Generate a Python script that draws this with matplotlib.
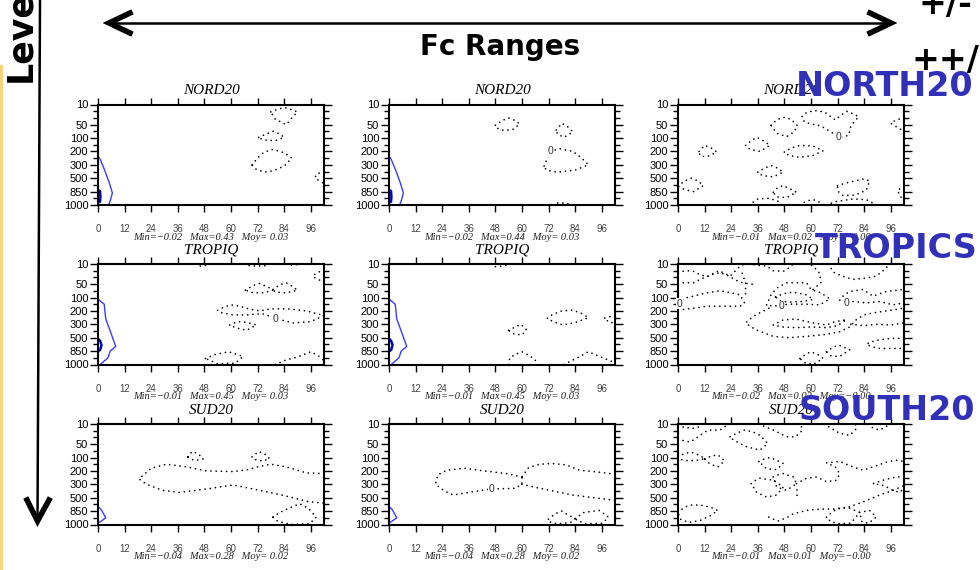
import math
import matplotlib
matplotlib.use("Agg")
import matplotlib.pyplot as plt

# Echeances (h) et niveaux de pression (axe vertical en indice de niveau)
fc_hours = [0, 12, 24, 36, 48, 60, 72, 84, 96]
level_labels = ["10", "50", "100", "200", "300", "500", "850", "1000"]
level_pos = [0, 1.5, 2.5, 3.5, 4.5, 5.5, 6.5, 7.5]
level_minor = [0.5, 1.0, 2.0, 3.0, 4.0, 5.0, 6.0, 7.0]

regions = ["NORD20", "TROPIQ", "SUD20"]

# Min / Max / Moy par domaine (lignes) et par experience (colonnes)
stat_min = [[-0.02, -0.02, -0.01], [-0.01, -0.01, -0.02], [-0.04, -0.04, -0.01]]
stat_max = [[0.43, 0.44, 0.02], [0.45, 0.45, 0.02], [0.28, 0.28, 0.01]]
stat_moy = [[0.03, 0.03, -0.00], [0.03, 0.03, -0.00], [0.02, 0.02, -0.00]]

# Isolignes 0 (pointillees), chaque courbe = liste de (heure, niveau)
nord_a = [
    [(78, 0.55), (82, 0.3), (85, 0.25), (90, 0.55), (87, 1.1), (85, 1.5), (80, 1.1), (78, 0.55)],
    [(72.5, 2.45), (76, 2.2), (79, 2.0), (82, 2.2), (84, 2.45), (80, 2.7), (74.5, 2.65), (72.5, 2.45)],
    [(69.5, 4.5), (72, 4.0), (75, 3.55), (79, 3.35), (84, 3.6), (87.5, 4.0), (84, 4.6), (79, 4.95),
     (75, 5.05), (71, 4.8), (69.5, 4.5)],
    [(102, 5.0), (98.5, 5.2), (98, 5.5), (102, 5.9)],
]
nord_b = [
    [(48, 1.55), (51, 1.2), (54, 1.0), (57, 1.2), (59, 1.45), (56, 1.85), (52, 1.95), (48.5, 1.75), (48, 1.55)],
    [(75.5, 1.9), (78, 1.4), (81, 1.7), (83, 2.05), (79, 2.45), (76, 2.2), (75.5, 1.9)],
    [(70, 4.6), (71.5, 4.0), (73, 3.5), (77, 3.3), (83, 3.5), (87, 4.0), (90, 4.5), (84, 4.9),
     (76, 5.05), (71, 4.9), (70, 4.6)],
    [(74, 7.5), (76, 7.35), (80, 7.35), (82, 7.5)],
]
nord_c = [
    [(0, 6.1), (3, 5.7), (6, 5.5), (9, 5.7), (11.5, 6.05), (7, 6.5), (3, 6.35), (0, 6.1)],
    [(9.5, 3.5), (12, 3.05), (15, 3.25), (17.5, 3.55), (13, 3.9), (10, 3.85), (9.5, 3.5)],
    [(30.5, 3.05), (33, 2.7), (35.5, 2.45), (39, 2.75), (41.5, 3.05), (37, 3.5), (32.5, 3.35), (30.5, 3.05)],
    [(42, 1.55), (44.5, 1.15), (47.5, 0.95), (51, 1.1), (54, 1.6), (52, 2.1), (49, 2.4), (44.5, 2.15), (42, 1.55)],
    [(48, 3.55), (51, 3.25), (55, 3.05), (61, 3.1), (65.5, 3.45), (61, 3.8), (55, 3.95), (50, 3.8), (48, 3.55)],
    [(36, 5.05), (39, 4.75), (42, 4.55), (45, 4.75), (47.5, 5.05), (43, 5.4), (38, 5.3), (36, 5.05)],
    [(43, 6.55), (45, 6.2), (47.5, 6.05), (50, 6.25), (53.5, 6.55), (49, 6.95), (44.5, 6.9), (43, 6.55)],
    [(56, 0.9), (58, 0.6), (61.5, 0.45), (66, 0.55), (71, 1.15), (74, 0.75), (76.5, 0.5), (81.5, 0.9),
     (78, 1.6), (77, 2.3), (73.5, 2.45), (69, 2.05), (64.5, 1.6), (60, 1.45), (57, 1.3), (56, 0.9)],
    [(102, 0.95), (98, 1.2), (96, 1.4), (99, 1.7), (101, 1.9)],
    [(72, 6.05), (76, 5.85), (80, 5.7), (84, 5.55), (86.5, 5.7), (85, 6.4), (80, 6.75), (74.5, 6.8),
     (72, 6.45), (72, 6.05)],
    [(32, 7.5), (36, 7.05), (41, 7.0), (45, 7.2), (47, 7.5)],
    [(55, 7.5), (58, 7.2), (61, 7.1), (64, 7.3), (66, 7.5)],
    [(67, 7.5), (71, 7.25), (79, 7.05), (85, 7.1), (89.5, 7.5)],
    [(102, 6.1), (99, 6.4), (100.5, 6.9), (102, 7.1)],
]

tropiq_a = [
    [(44, 0.0), (46, 0.15), (49, 0.1), (50, 0.0)],
    [(66, 0.0), (69, 0.15), (75, 0.15), (78, 0.0)],
    [(85, 0.0), (88, 0.1), (91, 0.0)],
    [(102, 0.4), (98, 0.75), (97, 0.95), (100, 1.2), (102, 1.1)],
    [(66.5, 1.95), (70, 1.6), (73, 1.45), (77, 1.75), (79, 1.95), (75, 2.15), (70, 2.15), (66.5, 1.95)],
    [(79, 1.9), (82, 1.55), (85, 1.4), (88, 1.7), (90, 1.95), (85, 2.15), (80, 2.1), (79, 1.9)],
    [(54, 3.45), (57, 3.2), (60, 3.05), (64, 3.15), (68, 3.35), (73, 3.5), (78, 3.35), (86, 3.35),
     (94, 3.5), (102, 3.85), (96, 4.3), (88, 4.4), (81, 4.1), (74, 3.7), (67, 3.8), (61, 3.8),
     (56, 3.65), (54, 3.45)],
    [(59.5, 4.55), (63, 4.3), (67, 4.35), (71.5, 4.55), (67, 4.95), (62, 4.75), (59.5, 4.55)],
    [(48.5, 7.05), (53, 6.75), (59, 6.55), (65.5, 6.9), (62, 7.4), (54, 7.45), (48.5, 7.05)],
    [(80, 7.5), (85, 7.15), (90, 6.95), (96, 6.55), (99, 6.8), (102, 7.2)],
]
tropiq_b = [
    [(46, 0.0), (48, 0.2), (52, 0.15), (54, 0.0)],
    [(54, 4.95), (57, 4.7), (59.5, 4.5), (62, 4.9), (60, 5.3), (56, 5.2), (54, 4.95)],
    [(71.5, 4.05), (74, 3.75), (78, 3.5), (83, 3.45), (87, 3.7), (90, 4.0), (84.5, 4.35), (78.5, 4.55),
     (74, 4.3), (71.5, 4.05)],
    [(102, 3.85), (97, 4.05), (100, 4.4), (102, 4.3)],
    [(54, 7.5), (54.5, 7.0), (57, 6.75), (60, 6.55), (63, 6.8), (66, 7.15), (66.5, 7.5)],
    [(79, 7.5), (85, 7.0), (90, 6.55), (95, 6.9), (101, 7.3), (102, 7.45)],
]
tropiq_c = [
    [(0, 0.6), (4, 0.5), (7, 0.55), (10, 0.8), (13, 0.95), (16, 0.7), (18.5, 0.5), (21, 0.7),
     (23.5, 0.9), (26, 0.5), (28, 0.15), (30, 0.0)],
    [(0, 1.4), (4, 1.4), (7, 1.4), (10, 1.15), (13, 0.95), (16, 0.75), (19, 0.65), (23, 0.9),
     (26, 1.2), (29, 1.4), (33, 1.5), (35, 1.55)],
    [(29, 0.7), (30.5, 1.4), (30.5, 2.3)],
    [(0, 2.85), (3, 2.55), (7, 2.4), (13, 2.15), (19, 2.0), (24, 2.15), (28, 2.3), (30, 2.9), (28, 3.15),
     (20, 3.15), (13, 3.15), (7, 3.3), (2, 3.4), (0, 3.1)],
    [(32, 0.0), (36, 0.1), (40, 0.15), (43, 0.5), (47.5, 0.55), (50, 0.3), (52, 0.0)],
    [(40, 3.05), (42, 2.3), (44.5, 1.8), (49, 1.4), (54, 1.4), (58, 1.4), (60, 1.9), (64.5, 2.15),
     (68.5, 2.6), (64, 3.05), (58, 3.0), (50, 3.0), (43, 3.15), (40, 3.05)],
    [(44, 2.45), (48, 2.2), (52, 2.1), (58, 2.3), (61, 2.65), (56, 2.8), (50, 2.85), (46, 2.75), (44, 2.45)],
    [(41, 3.3), (38, 3.55), (34, 3.9), (30.5, 4.4), (35, 4.9), (43, 5.4), (50, 5.5), (58, 5.4), (67, 5.25),
     (73, 5.05), (77.5, 4.7), (80.5, 4.15), (84, 3.8), (88, 3.65), (94, 3.5), (102, 3.3)],
    [(43, 4.55), (47, 4.2), (53, 4.1), (61, 4.4), (67, 4.55), (71, 4.3), (76, 4.15), (72, 4.6), (67, 4.75),
     (60, 4.7), (53, 4.75), (47, 4.7), (43, 4.55)],
    [(61, 1.9), (64.5, 1.4), (64, 0.7), (61, 0.15), (59, 0.0)],
    [(68, 0.0), (70, 0.6), (74, 0.9), (79, 1.15), (85, 1.05), (89.5, 0.9), (94, 0.3), (95, 0.0)],
    [(73, 2.7), (75, 2.3), (77.5, 2.05), (83.5, 1.9), (88, 2.4), (94, 2.05), (102, 1.9)],
    [(79, 2.8), (85, 2.9), (91, 2.8), (97, 3.05), (102, 2.9)],
    [(78, 4.5), (84, 4.6), (90, 4.5), (96, 4.55), (102, 4.4)],
    [(102, 5.55), (96, 5.55), (91, 5.65), (86.5, 5.85), (85, 6.0), (88, 6.2), (91, 6.3), (102, 6.3)],
    [(55, 7.05), (58, 6.7), (60, 6.55), (63, 6.75), (65.5, 7.05), (61, 7.5), (57, 7.35), (55, 7.05)],
    [(67, 6.55), (70, 6.2), (72.5, 6.05), (77.5, 6.4), (73, 6.9), (69, 6.85), (67, 6.55)],
]

sud_a = [
    [(40.5, 2.45), (42.5, 2.05), (45, 2.2), (47.5, 2.6), (44.5, 2.7), (42, 2.65), (40.5, 2.45)],
    [(69.5, 2.45), (72.5, 2.05), (75, 2.2), (77.5, 2.6), (74.5, 2.75), (71.5, 2.7), (69.5, 2.45)],
    [(102, 3.7), (94, 3.65), (85, 3.2), (78, 3.0), (72, 3.2), (68, 3.4), (61, 3.55), (49, 3.5), (40, 3.2),
     (31, 3.0), (24, 3.3), (18.5, 4.1), (22, 4.5), (29, 4.95), (37, 5.1), (49, 4.85), (61, 4.55),
     (70, 4.85), (83, 5.3), (95, 5.8), (102, 5.9)],
    [(79, 6.95), (82, 6.6), (86, 6.3), (91, 5.95), (95, 6.3), (98.5, 6.95), (95.5, 7.45), (87, 7.5),
     (81, 7.25), (79, 6.95)],
]
sud_b = [
    [(60, 3.95), (53, 3.7), (43, 3.5), (34, 3.3), (26, 3.45), (22, 3.8), (21, 4.5), (25, 5.0), (29, 5.3),
     (38, 5.05), (46, 4.85), (57, 4.8), (60, 4.5), (60, 3.95)],
    [(102, 3.75), (95, 3.6), (86, 3.45), (80, 3.05), (74, 2.95), (68, 3.0), (63, 3.25), (60, 3.95)],
    [(60, 4.5), (68, 4.8), (83, 5.3), (102, 5.7)],
    [(72, 7.1), (75, 6.7), (78, 6.5), (81, 6.8), (84, 7.05), (82, 7.35), (76, 7.45), (73, 7.35), (72, 7.1)],
    [(84, 7.05), (88, 6.6), (95, 6.45), (99, 6.95), (96.5, 7.4), (89, 7.45), (85, 7.2), (84, 7.05)],
]
sud_c = [
    [(0, 1.15), (5.5, 1.35), (10, 0.85), (13.5, 0.45), (19, 0.45), (22, 0.1), (23, 0.0)],
    [(0, 0.3), (3, 0.2), (6, 0.35), (9, 0.25), (11, 0.0)],
    [(23.5, 0.95), (27, 0.65), (30, 0.45), (34, 0.6), (37, 0.85), (40.5, 1.45), (37, 1.95), (31, 1.7),
     (25, 1.2), (23.5, 0.95)],
    [(36.5, 0.0), (40, 0.25), (43, 0.45), (46, 0.7), (49, 0.95), (53, 0.95), (56, 0.5), (55.5, 0.0)],
    [(66, 0.0), (70, 0.4), (73, 0.7), (77.5, 0.85), (80.5, 0.35), (80, 0.0)],
    [(86, 0.0), (88, 0.3), (91, 0.45), (94, 0.2), (95, 0.0)],
    [(0, 2.45), (3, 2.2), (6, 2.1), (10, 2.35), (12, 2.6), (9, 2.7), (5, 2.75), (1, 2.65), (0, 2.45)],
    [(12, 2.6), (15, 2.4), (18, 2.3), (21, 2.75), (18, 3.2), (14.5, 3.0), (12, 2.6)],
    [(36.5, 2.8), (39, 2.6), (41.5, 2.5), (45, 2.75), (47.5, 2.95), (44.5, 3.4), (40, 3.35), (36.5, 2.8)],
    [(33, 4.45), (35, 4.2), (37, 4.05), (43, 4.2), (47.5, 4.7), (44.5, 5.3), (40, 5.45), (35.5, 5.1), (33, 4.45)],
    [(43, 3.95), (45, 3.8), (47.5, 3.7), (52, 3.95), (53.5, 4.45), (49, 4.95), (44.5, 4.7), (43, 3.95)],
    [(53.5, 4.45), (58, 4.05), (62.5, 3.95), (67, 4.3), (71.5, 4.2), (73, 3.7), (71, 3.2), (67, 2.9),
     (73, 2.8), (79, 3.2), (83.5, 3.45), (88, 3.2), (94, 2.85), (98.5, 2.7), (102, 2.8)],
    [(53.5, 4.95), (53.5, 5.7)],
    [(41, 6.95), (45, 7.25), (49, 7.0), (52, 6.7), (58, 6.45), (64, 6.35), (70, 6.35), (77, 6.2),
     (83, 5.85), (91, 5.3), (97, 4.95), (102, 4.6)],
    [(67, 6.95), (70, 6.5), (73, 6.3), (77, 6.25), (82, 6.6), (78, 7.4), (73, 7.45), (69, 7.3), (67, 6.95)],
    [(82, 6.6), (86.5, 6.45), (89.5, 6.95), (86, 7.4), (83, 7.3), (82, 6.6)],
    [(102, 3.9), (97, 4.0), (92.5, 4.2), (88, 4.45), (93, 4.6), (97, 4.95), (100, 5.1), (102, 4.8)],
    [(0, 6.6), (3, 6.2), (6, 6.05), (10, 6.05), (14.5, 6.2), (18, 6.45), (14.5, 6.85), (10, 7.2),
     (5, 7.35), (1, 7.1), (0, 6.6)],
]

# Positions des etiquettes "0" sur les isolignes
zero_nord = [[], [(72.8, 3.5)], [(72.5, 2.45)]]
zero_tropiq = [[(80.2, 4.1)], [], [(0.6, 2.95), (46.5, 3.15), (76, 2.9)]]
zero_sud = [[], [(46.3, 4.85)], []]

# Isolignes bleues (fines) pres de l'echeance 0
blue_nord = [(0, 3.85), (1, 4.1), (3, 4.9), (5, 5.8), (6.5, 6.6), (5.5, 7.2), (4.8, 7.5)]
blue_tropiq = [(0, 2.6), (1, 2.75), (2.8, 3.0), (3.5, 4.1), (5.5, 5.0), (8.0, 6.15), (5.5, 6.5),
               (4.5, 7.0), (1, 7.5)]
blue_sud = [(0, 6.15), (1.5, 6.4), (3.5, 7.0), (1, 7.3), (0, 7.35)]
# Isolignes bleues (epaisses)
thick_nord = [(0.2, 6.4), (0.9, 6.45), (1.1, 6.9), (0.9, 7.25), (0.2, 7.3)]
thick_tropiq = [(0.2, 5.6), (1.0, 5.75), (1.6, 6.05), (1.0, 6.4), (0.2, 6.5)]

contours = [[nord_a, nord_b, nord_c], [tropiq_a, tropiq_b, tropiq_c], [sud_a, sud_b, sud_c]]
zeros = [zero_nord, zero_tropiq, zero_sud]
blue_thin = [blue_nord, blue_tropiq, blue_sud]
blue_thick = [thick_nord, thick_tropiq, None]

W, H = 980, 570
fig = plt.figure(figsize=(W / 100, H / 100), dpi=100)
fig.patch.set_facecolor("white")

col_left = [98, 389, 678]
row_top = [104.5, 264, 424]
ax_w, ax_h = 226, 100.5

serif = "Liberation Serif"
sans = "Liberation Sans"


def fmt(v):
    # signe conserve pour -0.00
    s = "%.2f" % abs(v)
    return ("\u2212" if math.copysign(1, v) < 0 else " ") + s


for r in range(3):
    for c in range(3):
        ax = fig.add_axes([col_left[c] / W, 1 - (row_top[r] + ax_h) / H, ax_w / W, ax_h / H])
        ax.set_xlim(0, 102)
        ax.set_ylim(7.5, 0)

        for curve in contours[r][c]:
            xs = [p[0] for p in curve]
            ys = [p[1] for p in curve]
            ax.plot(xs, ys, color="black", lw=1.25, ls=(0, (0.01, 3.0)), dash_capstyle="round")
        for (zx, zy) in zeros[r][c]:
            ax.text(zx, zy, "0", fontsize=7.5, family=sans, color="#333333", ha="center", va="center",
                    bbox=dict(facecolor="white", edgecolor="none", pad=0.3))

        # la composante bleue n'apparait que sur les deux premieres experiences
        if c < 2:
            bx = [p[0] for p in blue_thin[r]]
            by = [p[1] for p in blue_thin[r]]
            ax.plot(bx, by, color="#3B3BFF", lw=1.0, clip_on=False)
            if blue_thick[r] is not None:
                tx = [p[0] for p in blue_thick[r]]
                ty = [p[1] for p in blue_thick[r]]
                ax.plot(tx, ty, color="#0000CC", lw=1.8, clip_on=False)

        ax.set_xticks(fc_hours)
        ax.set_xticklabels([str(h) for h in fc_hours], family=sans)
        ax.set_yticks(level_pos)
        ax.set_yticklabels(level_labels, family=sans)
        ax.set_yticks(level_minor, minor=True)
        ax.tick_params(which="both", direction="out", top=True, right=True, width=1.0)
        ax.tick_params(axis="x", which="major", length=5, labelsize=7, pad=9, labelcolor="#444444")
        ax.tick_params(axis="y", which="major", length=5.5, labelsize=8, pad=1.5)
        ax.tick_params(axis="y", which="minor", length=3.5)
        for sp in ax.spines.values():
            sp.set_linewidth(1.5)

        ax.text(0.5, 1 + 14 / ax_h, regions[r], transform=ax.transAxes, ha="center", va="center",
                fontsize=11, style="italic", family=serif)
        stat = "Min=%s   Max=%.2f   Moy=%s" % (fmt(stat_min[r][c]).strip(), stat_max[r][c], fmt(stat_moy[r][c]))
        ax.text(0.5, -32 / ax_h, stat, transform=ax.transAxes, ha="center", va="center",
                fontsize=7.5, style="italic", family=serif, color="#222222")

# Calque d'annotations en coordonnees pixels
ov = fig.add_axes([0, 0, 1, 1], zorder=10)
ov.set_xlim(0, W)
ov.set_ylim(H, 0)
ov.axis("off")
ov.patch.set_alpha(0)

# bande orange a gauche
ov.fill_between([0, 3], [65, 65], [570, 570], color="#FDD27A", lw=0)

# fleche verticale (niveaux)
ov.plot([40, 37.5], [0, 521], color="black", lw=1.8)
ov.plot([27, 37.5, 49], [500, 521, 500], color="black", lw=4, solid_joinstyle="miter")
# fleche horizontale (echeances)
ov.plot([110, 890], [23, 23], color="black", lw=1.8)
ov.plot([130, 109, 130], [13, 23, 33], color="black", lw=4, solid_joinstyle="miter")
ov.plot([870, 891, 870], [13, 23, 33], color="black", lw=4, solid_joinstyle="miter")

ov.text(20, 30, "Level", rotation=90, fontsize=25, fontweight="bold", family="DejaVu Sans",
        ha="center", va="center")
ov.text(500, 47, "Fc Ranges", fontsize=20, fontweight="bold", family="DejaVu Sans",
        ha="center", va="center")
ov.text(918, 14, "+/-", fontsize=24, fontweight="bold", family="DejaVu Sans", ha="left", va="baseline")
ov.text(911, 70, "++/--", fontsize=24, fontweight="bold", family="DejaVu Sans", ha="left", va="baseline")

blue = "#3030B8"
ov.text(885, 86, "NORTH20", fontsize=24, fontweight="bold", family="DejaVu Sans", color=blue,
        ha="center", va="center")
ov.text(896, 248, "TROPICS", fontsize=24, fontweight="bold", family="DejaVu Sans", color=blue,
        ha="center", va="center")
ov.text(887, 410, "SOUTH20", fontsize=24, fontweight="bold", family="DejaVu Sans", color=blue,
        ha="center", va="center")

fig.savefig("out.png", dpi=100)
